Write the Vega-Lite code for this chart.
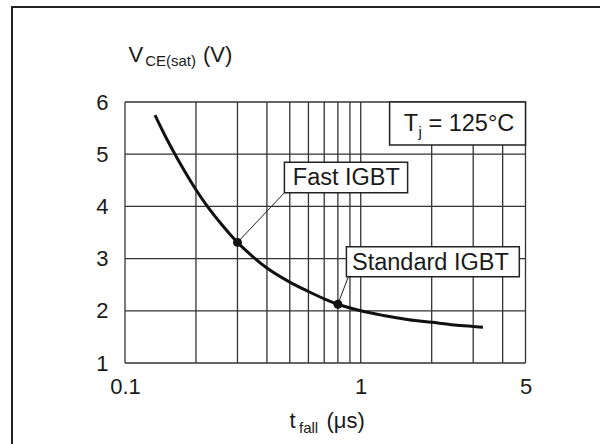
{
  "$schema": "https://vega.github.io/schema/vega-lite/v6.json",
  "width": 592,
  "height": 441,
  "autosize": {"type": "none"},
  "padding": {"left": 12, "top": 7, "right": -4, "bottom": -4},
  "background": "white",
  "config": {
    "font": "Liberation Sans",
    "view": {"stroke": "#222", "strokeWidth": 2},
    "axis": {"labelColor": "#1a1a1a", "titleColor": "#1a1a1a", "titleFontWeight": "normal"}
  },
  "datasets": {
    "curve": [
      {"t": 0.134, "v": 5.75},
      {"t": 0.15, "v": 5.3},
      {"t": 0.17, "v": 4.85},
      {"t": 0.2, "v": 4.32},
      {"t": 0.222, "v": 4.02},
      {"t": 0.25, "v": 3.72},
      {"t": 0.3, "v": 3.31},
      {"t": 0.35, "v": 3.03},
      {"t": 0.4, "v": 2.82},
      {"t": 0.5, "v": 2.55},
      {"t": 0.6, "v": 2.37},
      {"t": 0.7, "v": 2.23},
      {"t": 0.8, "v": 2.125},
      {"t": 1.0, "v": 2.0},
      {"t": 1.25, "v": 1.91},
      {"t": 1.6, "v": 1.83},
      {"t": 2.0, "v": 1.78},
      {"t": 2.5, "v": 1.73},
      {"t": 3.0, "v": 1.7},
      {"t": 3.3, "v": 1.685}
    ],
    "xgrid": [
      {"t": 0.1}, {"t": 0.2}, {"t": 0.3}, {"t": 0.4}, {"t": 0.5}, {"t": 0.6}, {"t": 0.7},
      {"t": 0.8}, {"t": 0.9}, {"t": 1}, {"t": 2}, {"t": 3}, {"t": 4}, {"t": 5}
    ],
    "ygrid": [{"v": 1}, {"v": 2}, {"v": 3}, {"v": 4}, {"v": 5}, {"v": 6}],
    "devices": [
      {"device": "Fast IGBT", "t": 0.3, "v": 3.31, "lt": 0.4745, "lv": 4.262},
      {"device": "Standard IGBT", "t": 0.8, "v": 2.125, "lt": 0.8858, "lv": 2.653}
    ],
    "boxes": [
      {"name": "Fast IGBT", "t1": 0.4745, "t2": 1.581, "v1": 4.262, "v2": 4.845},
      {"name": "Standard IGBT", "t1": 0.8694, "t2": 4.707, "v1": 2.653, "v2": 3.228},
      {"name": "Tj", "t1": 1.326, "t2": 5, "v1": 5.176, "v2": 6}
    ],
    "labels": [
      {"text": "Fast IGBT", "t": 0.5149, "v": 4.41, "role": "main"},
      {"text": "Standard IGBT", "t": 0.9183, "v": 2.782, "role": "main"},
      {"text": "T", "t": 1.523, "v": 5.444, "role": "main"},
      {"text": "j", "t": 1.759, "v": 5.33, "role": "sub"},
      {"text": "= 125°C", "t": 1.937, "v": 5.444, "role": "main"}
    ]
  },
  "layer": [
    {
      "data": {"name": "xgrid"},
      "mark": {"type": "rule", "stroke": "#333", "strokeWidth": 1.3},
      "encoding": {
        "x": {"field": "t", "type": "quantitative", "axis": null},
        "y": {"datum": 1, "type": "quantitative", "axis": null},
        "y2": {"datum": 6}
      }
    },
    {
      "data": {"name": "ygrid"},
      "mark": {"type": "rule", "stroke": "#333", "strokeWidth": 1.3},
      "encoding": {
        "y": {"field": "v", "type": "quantitative", "axis": null},
        "x": {"datum": 0.1, "type": "quantitative", "axis": null},
        "x2": {"datum": 5}
      }
    },
    {
      "data": {"name": "curve"},
      "mark": {"type": "line", "interpolate": "monotone", "stroke": "#111", "strokeWidth": 3},
      "encoding": {
        "x": {
          "field": "t",
          "type": "quantitative",
          "scale": {"type": "log", "domain": [0.1, 5], "range": [113, 513.5], "nice": false},
          "axis": {
            "orient": "bottom",
            "offset": -85,
            "values": [0.1, 1, 5],
            "format": "~g",
            "domain": false,
            "ticks": false,
            "grid": false,
            "labelFontSize": 22,
            "labelPadding": 13,
            "labelOverlap": false,
            "labelFlush": false,
            "title": "t",
            "titleFontSize": 22,
            "titleAlign": "left",
            "titleBaseline": "alphabetic",
            "titleX": 277,
            "titleY": 64
          }
        },
        "y": {
          "field": "v",
          "type": "quantitative",
          "scale": {"domain": [1, 6], "range": [356, 95], "nice": false, "zero": false},
          "axis": {
            "orient": "left",
            "offset": -113,
            "values": [1, 2, 3, 4, 5, 6],
            "domain": false,
            "ticks": false,
            "grid": false,
            "labelFontSize": 22,
            "labelPadding": 17,
            "title": "V",
            "titleFontSize": 22,
            "titleAngle": 0,
            "titleAlign": "left",
            "titleBaseline": "alphabetic",
            "titleX": 3,
            "titleY": 54.7
          }
        }
      }
    },
    {
      "data": {"name": "devices"},
      "mark": {"type": "rule", "stroke": "#222", "strokeWidth": 1},
      "encoding": {
        "x": {"field": "t", "type": "quantitative", "axis": null},
        "y": {"field": "v", "type": "quantitative", "axis": null},
        "x2": {"field": "lt"},
        "y2": {"field": "lv"}
      }
    },
    {
      "data": {"name": "boxes"},
      "mark": {"type": "rect", "fill": "white", "stroke": "#222", "strokeWidth": 1.5},
      "encoding": {
        "x": {"field": "t1", "type": "quantitative", "axis": null},
        "x2": {"field": "t2"},
        "y": {"field": "v1", "type": "quantitative", "axis": null},
        "y2": {"field": "v2"}
      }
    },
    {
      "data": {"name": "labels"},
      "transform": [{"filter": "datum.role == 'main'"}],
      "mark": {"type": "text", "align": "left", "baseline": "alphabetic", "fontSize": 23.5, "color": "#1a1a1a"},
      "encoding": {
        "x": {
          "field": "t",
          "type": "quantitative",
          "axis": {
            "orient": "bottom",
            "offset": -85,
            "domain": false,
            "ticks": false,
            "labels": false,
            "grid": false,
            "title": "(μs)",
            "titleFontSize": 22,
            "titleAlign": "left",
            "titleBaseline": "alphabetic",
            "titleX": 314,
            "titleY": 64
          }
        },
        "y": {
          "field": "v",
          "type": "quantitative",
          "axis": {
            "orient": "left",
            "offset": -113,
            "domain": false,
            "ticks": false,
            "labels": false,
            "grid": false,
            "title": "(V)",
            "titleFontSize": 22,
            "titleAngle": 0,
            "titleAlign": "left",
            "titleBaseline": "alphabetic",
            "titleX": 77.5,
            "titleY": 54.7
          }
        },
        "text": {"field": "text"}
      }
    },
    {
      "data": {"name": "labels"},
      "transform": [{"filter": "datum.role == 'sub'"}],
      "mark": {"type": "text", "align": "left", "baseline": "alphabetic", "fontSize": 15, "color": "#1a1a1a"},
      "encoding": {
        "x": {"field": "t", "type": "quantitative", "axis": null},
        "y": {"field": "v", "type": "quantitative", "axis": null},
        "text": {"field": "text"}
      }
    },
    {
      "data": {"name": "devices"},
      "mark": {"type": "point", "filled": true, "size": 80, "color": "#111", "opacity": 1},
      "encoding": {
        "x": {
          "field": "t",
          "type": "quantitative",
          "axis": {
            "orient": "top",
            "offset": 0,
            "domain": false,
            "ticks": false,
            "labels": false,
            "grid": false,
            "title": "fall",
            "titleFontSize": 15,
            "titleAlign": "left",
            "titleBaseline": "alphabetic",
            "titleX": 286.5,
            "titleY": 425
          }
        },
        "y": {
          "field": "v",
          "type": "quantitative",
          "axis": {
            "orient": "right",
            "offset": 0,
            "domain": false,
            "ticks": false,
            "labels": false,
            "grid": false,
            "title": "CE(sat)",
            "titleFontSize": 15,
            "titleAngle": 0,
            "titleAlign": "left",
            "titleBaseline": "alphabetic",
            "titleX": -459.3,
            "titleY": 58.5
          }
        }
      }
    }
  ],
  "resolve": {"axis": {"x": "independent", "y": "independent"}}
}
